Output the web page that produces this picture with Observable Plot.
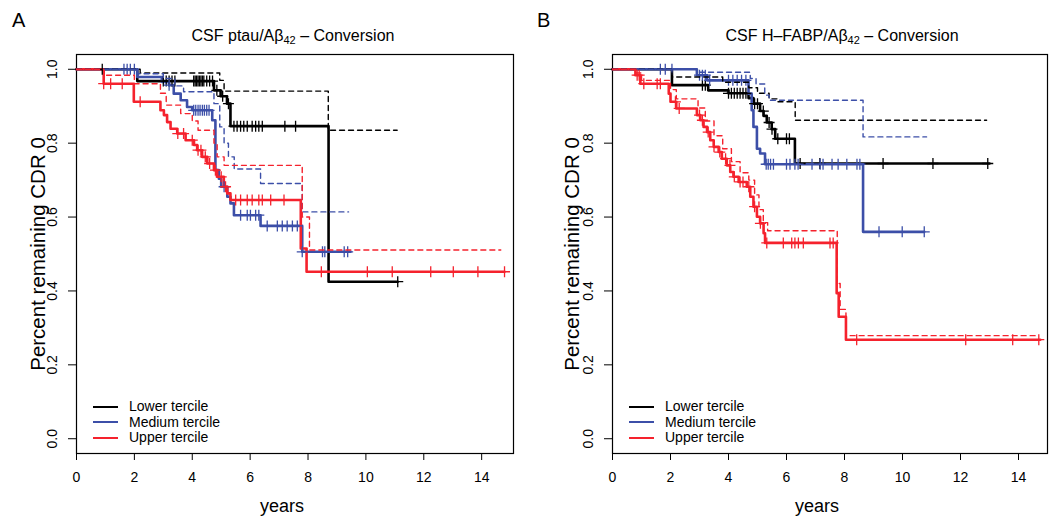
<!DOCTYPE html>
<html>
<head>
<meta charset="utf-8">
<script src="https://cdn.jsdelivr.net/npm/d3@7"></script>
<script src="https://cdn.jsdelivr.net/npm/@observablehq/plot@0.6"></script>
<style>
  body { margin: 0; background: #fff; }
  #wrap { position: relative; width: 1050px; height: 519px; font-family: "Liberation Sans", Arial, sans-serif; color: #000; }
  .panel { position: absolute; top: 0; }
  .letter { position: absolute; font-size: 20px; line-height: 1; }
  .title { position: absolute; font-size: 16px; line-height: 1; white-space: nowrap; transform: translateX(-50%); }
  .title sub { font-size: 11px; vertical-align: -3px; line-height: 0; }
  .legend { position: absolute; font-size: 14px; line-height: 15.6px; }
  .legend .row { display: flex; align-items: center; height: 15.6px; }
  .legend .sw { display: inline-block; width: 25px; height: 0; border-top: 2.5px solid; margin-right: 11px; }
</style>
</head>
<body>
<div id="wrap"></div>
<script>
// ---------- shared ----------
const xTicks = [0, 2, 4, 6, 8, 10, 12, 14];
const yTicks = [0, 0.2, 0.4, 0.6, 0.8, 1.0];
const terciles = ["Lower tercile", "Medium tercile", "Upper tercile"];
const colors = ["#000000", "#3c4fa8", "#f5222d"];

// ---------- Panel A : CSF ptau/Abeta42 ----------
const ptauLowerKM = [[0,1],[2.1,0.968],[4.75,0.943],[4.98,0.927],[5.2,0.907],[5.32,0.846],[8.71,0.425],[11.1,0.425]];
const ptauLowerFit = [[0,1],[2.2,0.99],[4.95,0.97],[5.1,0.941],[8.7,0.835],[11.08,0.835]];
const ptauLowerCens = [0.89,3.0,3.1,3.2,3.3,3.4,4.05,4.1,4.15,4.2,4.25,4.3,4.35,4.4,4.5,4.6,4.7,4.85,5.05,5.25,5.44,5.55,5.67,5.78,5.9,6.07,6.19,6.3,6.42,7.2,7.57,11.1];

const ptauMediumKM = [[0,1],[2.1,0.979],[2.95,0.966],[3.2,0.957],[3.36,0.934],[3.6,0.916],[3.82,0.898],[4.0,0.889],[4.69,0.862],[4.8,0.727],[4.92,0.704],[5.0,0.682],[5.21,0.655],[5.32,0.637],[5.44,0.605],[6.36,0.576],[7.8,0.506],[9.47,0.506]];
const ptauMediumFit = [[0,1],[2.1,0.988],[3.0,0.975],[3.4,0.955],[3.7,0.939],[4.75,0.907],[4.95,0.844],[5.1,0.80],[5.25,0.763],[5.45,0.73],[6.36,0.691],[7.8,0.614],[9.4,0.614]];
const ptauMediumCens = [1.64,1.75,1.86,2.0,3.2,4.05,4.12,4.2,4.27,4.35,4.42,4.5,4.58,5.1,5.67,5.9,6.01,6.19,6.3,6.59,6.94,7.11,7.28,7.46,7.63,7.8,8.5,8.58,9.25,9.37];

const ptauUpperKM = [[0,1],[0.94,0.961],[1.98,0.912],[2.9,0.889],[3.02,0.876],[3.13,0.857],[3.25,0.839],[3.48,0.826],[3.77,0.808],[4.06,0.795],[4.17,0.781],[4.34,0.763],[4.52,0.745],[4.75,0.727],[4.86,0.709],[5.09,0.682],[5.21,0.664],[5.32,0.646],[7.75,0.515],[7.95,0.452],[14.79,0.452]];
const ptauUpperFit = [[0,1],[0.94,0.984],[2.0,0.961],[2.9,0.935],[3.1,0.903],[3.6,0.88],[4.0,0.86],[4.2,0.835],[4.75,0.80],[4.86,0.763],[5.1,0.74],[7.8,0.60],[8.05,0.511],[14.66,0.511]];
const ptauUpperCens = [0.94,1.18,1.58,2.2,3.5,3.7,4.0,4.2,4.3,4.45,4.6,4.8,5.0,5.15,5.5,5.67,5.9,6.07,6.3,6.42,6.71,7.17,8.46,10.05,10.91,12.24,13.02,13.87,14.79];

// ---------- Panel B : CSF H-FABP/Abeta42 ----------
const fabpLowerKM = [[0,1],[2.05,0.957],[3.3,0.943],[4.0,0.935],[4.69,0.922],[4.86,0.907],[5.09,0.887],[5.21,0.874],[5.32,0.856],[5.49,0.838],[5.61,0.812],[6.29,0.745],[13.0,0.745]];
const fabpLowerFit = [[0,1],[2.05,0.979],[3.8,0.965],[4.7,0.95],[5.0,0.935],[5.4,0.92],[5.7,0.912],[6.3,0.862],[12.9,0.862]];
const fabpLowerCens = [3.1,3.2,4.0,4.1,4.2,4.3,4.4,4.5,4.6,4.9,5.0,5.2,5.4,5.5,5.7,6.0,6.1,6.47,7.15,9.33,11.05,12.94];

const fabpMediumKM = [[0,1],[2.91,0.984],[3.26,0.97],[4.69,0.934],[4.8,0.889],[4.86,0.844],[4.98,0.785],[5.09,0.772],[5.26,0.743],[8.64,0.56],[10.75,0.56]];
const fabpMediumFit = [[0,1],[2.9,0.992],[4.75,0.975],[4.95,0.96],[5.25,0.93],[5.4,0.916],[8.64,0.817],[10.83,0.817]];
const fabpMediumCens = [1.65,1.82,2.05,3.0,3.1,3.2,3.35,4.0,4.15,4.3,4.45,4.6,5.3,5.37,5.45,5.55,6.0,6.12,6.29,6.4,6.88,7.16,7.26,7.57,7.78,8.08,8.43,8.53,9.19,9.99,10.75];

const fabpUpperKM = [[0,1],[0.79,0.984],[0.96,0.961],[1.94,0.934],[2.0,0.912],[2.2,0.894],[2.91,0.876],[3.03,0.862],[3.14,0.844],[3.26,0.83],[3.37,0.808],[3.49,0.79],[3.66,0.776],[3.77,0.758],[3.94,0.74],[4.06,0.722],[4.17,0.709],[4.35,0.695],[4.63,0.682],[4.75,0.655],[4.86,0.628],[4.98,0.601],[5.09,0.583],[5.21,0.556],[5.26,0.53],[7.73,0.394],[7.8,0.33],[8.05,0.268],[14.75,0.268]];
const fabpUpperFit = [[0,1],[0.8,0.99],[1.0,0.97],[2.0,0.945],[2.2,0.92],[2.95,0.895],[3.2,0.86],[3.5,0.82],[3.8,0.785],[4.1,0.75],[4.4,0.72],[4.7,0.70],[4.9,0.66],[5.05,0.62],[5.2,0.585],[5.35,0.563],[7.75,0.42],[7.85,0.35],[8.05,0.279],[14.7,0.279]];
const fabpUpperCens = [0.85,0.92,1.08,1.54,1.65,2.17,2.3,3.0,3.1,3.3,3.5,3.7,3.9,4.05,4.2,4.4,4.5,4.7,4.9,5.1,5.32,5.89,6.18,6.29,6.41,6.58,7.5,7.61,8.42,12.18,13.8,14.7];

// ---------- helpers ----------
const plusSymbol = {
  draw(context, size) {
    const h = Math.sqrt(size / Math.PI);
    context.moveTo(-h, 0); context.lineTo(h, 0);
    context.moveTo(0, -h); context.lineTo(0, h);
  }
};
function survAt(km, t) {
  let s = km[0][1];
  for (const [ti, si] of km) if (ti <= t + 1e-9) s = si;
  return s;
}
const FONT = "'Liberation Sans', Arial, sans-serif";

function panel(cfg) {
  const marks = [Plot.frame({stroke: "#000", strokeWidth: 1.2})];
  cfg.series.forEach((s, i) => {
    marks.push(Plot.line(s.km, {x: d => d[0], y: d => d[1], curve: "step-after", stroke: colors[i], strokeWidth: 2.6}));
  });
  cfg.series.forEach((s, i) => {
    marks.push(Plot.dot(s.cens.map(t => ({t, s: survAt(s.km, t)})), {x: "t", y: "s", symbol: plusSymbol, r: 5.5, stroke: colors[i], strokeWidth: 1.3, fill: "none"}));
  });
  cfg.series.forEach((s, i) => {
    marks.push(Plot.line(s.fit, {x: d => d[0], y: d => d[1], curve: "step-after", stroke: colors[i], strokeWidth: 1.4, strokeDasharray: "5,4"}));
  });
  marks.push(
    Plot.axisX({ticks: xTicks, tickSize: 7, tickPadding: 12, tickFormat: d => String(d), label: null, fontSize: 14}),
    Plot.axisY({ticks: yTicks, tickSize: 8, tickFormat: () => "", label: null}),
    Plot.text(yTicks, {y: d => d, text: d => d.toFixed(1), frameAnchor: "left", dx: -23.5, rotate: -90, textAnchor: "middle", lineAnchor: "middle", fontSize: 14}),
    Plot.text(["Percent remaining CDR 0"], {frameAnchor: "left", dx: cfg.ylabDx, rotate: -90, textAnchor: "middle", lineAnchor: "middle", fontSize: 20.5}),
    Plot.text(["years"], {frameAnchor: "bottom", dy: 53, dx: -13, textAnchor: "middle", lineAnchor: "middle", fontSize: 18})
  );
  return Plot.plot({
    width: 525, height: 519,
    marginLeft: cfg.ml, marginRight: cfg.mr, marginTop: 54, marginBottom: 66,
    x: {domain: [0, cfg.xmax]},
    y: {domain: [-0.04, 1.04]},
    style: {fontFamily: FONT, fontSize: "14px", color: "#000", background: "#fff", overflow: "visible"},
    marks
  });
}

const wrap = document.getElementById("wrap");
function addPanel(left, cfg, letter, titleHTML, titleX, legendX) {
  const div = document.createElement("div");
  div.className = "panel"; div.style.left = left + "px";
  div.appendChild(panel(cfg));
  wrap.appendChild(div);
  const L = document.createElement("div");
  L.className = "letter"; L.textContent = letter;
  L.style.left = (left + 12) + "px"; L.style.top = "10px";
  wrap.appendChild(L);
  const T = document.createElement("div");
  T.className = "title"; T.innerHTML = titleHTML;
  T.style.left = titleX + "px"; T.style.top = "28px";
  wrap.appendChild(T);
  const G = document.createElement("div");
  G.className = "legend"; G.style.left = legendX + "px"; G.style.top = "399px";
  terciles.forEach((name, i) => {
    const r = document.createElement("div"); r.className = "row";
    const sw = document.createElement("span"); sw.className = "sw"; sw.style.borderTopColor = colors[i];
    r.appendChild(sw); r.appendChild(document.createTextNode(name));
    G.appendChild(r);
  });
  wrap.appendChild(G);
}

addPanel(0, {
  ml: 76, mr: 12, xmax: 15.1, ylabDx: -38,
  series: [
    {km: ptauLowerKM, fit: ptauLowerFit, cens: ptauLowerCens},
    {km: ptauMediumKM, fit: ptauMediumFit, cens: ptauMediumCens},
    {km: ptauUpperKM, fit: ptauUpperFit, cens: ptauUpperCens}
  ]
}, "A", "CSF ptau/A&beta;<sub>42</sub> &ndash; Conversion", 293, 93);

addPanel(525, {
  ml: 87, mr: 3, xmax: 15.0, ylabDx: -40,
  series: [
    {km: fabpLowerKM, fit: fabpLowerFit, cens: fabpLowerCens},
    {km: fabpMediumKM, fit: fabpMediumFit, cens: fabpMediumCens},
    {km: fabpUpperKM, fit: fabpUpperFit, cens: fabpUpperCens}
  ]
}, "B", "CSF H&ndash;FABP/A&beta;<sub>42</sub> &ndash; Conversion", 842, 629);
</script>
</body>
</html>
